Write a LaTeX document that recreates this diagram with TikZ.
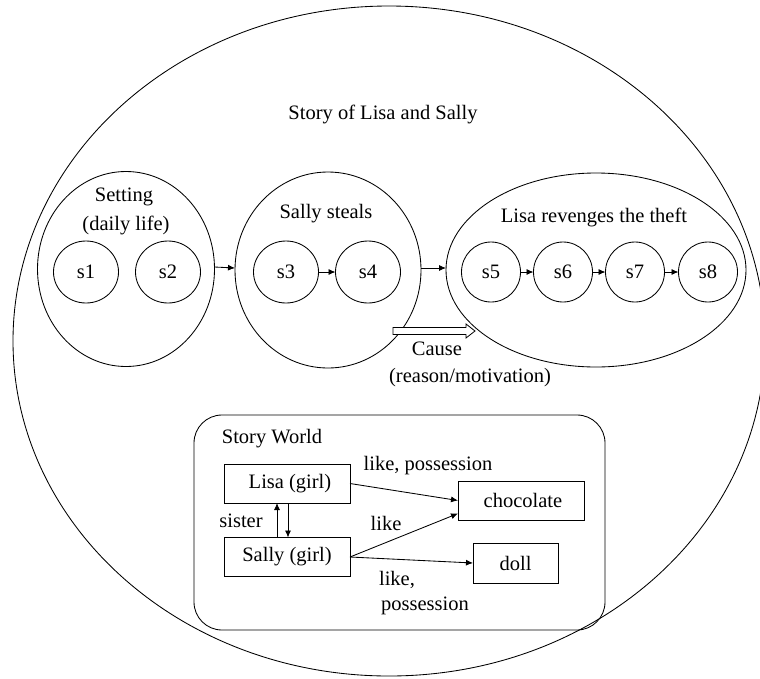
\documentclass[tikz,border=0pt]{standalone}
\usepackage{fontspec}
\setmainfont{Liberation Serif}
\usetikzlibrary{shapes.geometric,arrows.meta}
\begin{document}
\begin{tikzpicture}[x=1pt,y=-1pt,
  line width=0.85pt,
  every node/.style={font=\fontsize{20.5}{24}\selectfont, inner sep=0pt, outer sep=0pt},
  frame/.style={draw, ellipse},
  event/.style={draw, ellipse, minimum width=65pt, minimum height=62pt},
  eventsm/.style={draw, ellipse, minimum width=59pt, minimum height=60pt},
  entity/.style={draw, rectangle, minimum height=39pt},
  label/.style={anchor=base},
  tip/.style={-{Latex[length=7pt,width=6pt]}}]
\useasboundingbox (0,0) rectangle (760,678);

% whole story
\node[frame, minimum width=752pt, minimum height=670pt] (story) at (389,341) {};
\node[label] (title) at (383,119) {Story of Lisa and Sally};

% episodes
\node[frame, minimum width=177pt, minimum height=195pt] (setting) at (126,269) {};
\node[frame, minimum width=186pt, minimum height=196pt] (steal) at (328,270) {};
\node[frame, minimum width=300pt, minimum height=194pt] (revenge) at (596,270) {};

\node[label] (settingA) at (124,201) {Setting};
\node[label] (settingB) at (126,230) {(daily life)};
\node[label] (stealT) at (326,218) {Sally steals};
\node[label] (revengeT) at (594,222) {Lisa revenges the theft};

% events
\node[event] (s1) at (86,272) {s1};
\node[event] (s2) at (168,272) {s2};
\node[event] (s3) at (286,272) {s3};
\node[event] (s4) at (368,272) {s4};
\node[eventsm] (s5) at (491,272) {s5};
\node[eventsm] (s6) at (563,272) {s6};
\node[eventsm] (s7) at (635,272) {s7};
\node[eventsm] (s8) at (708,272) {s8};

\draw[tip] ([yshift=2pt]setting.east) -- ([yshift=2pt]steal.west);
\draw[tip] ([yshift=2pt]steal.east) -- ([yshift=2pt]revenge.west);
\draw[tip] (s3) -- (s4);
\draw[tip] (s5) -- (s6);
\draw[tip] (s6) -- (s7);
\draw[tip] (s7) -- (s8);

% causal link
\coordinate (cA) at (393,331);
\coordinate (cB) at (475,331);
\draw[fill=white, line width=0.8pt]
  ([yshift=3.5pt]cA) -- ([xshift=-9pt,yshift=3.5pt]cB) -- ([xshift=-9pt,yshift=7pt]cB)
  -- (cB) -- ([xshift=-9pt,yshift=-7pt]cB) -- ([xshift=-9pt,yshift=-3.5pt]cB)
  -- ([yshift=-3.5pt]cA) -- cycle;
\node[label] (cause) at (437,355) {Cause};
\node[label] (reason) at (470,382) {(reason/motivation)};

% story world
\node[draw, rectangle, rounded corners=28pt, minimum width=411pt, minimum height=215pt]
  (world) at (399.5,522.5) {};
\node[label] (worldT) at (272,443) {Story World};

\node[entity, minimum width=126pt] (lisa) at (287,483.5) {\hspace*{6pt}Lisa (girl)};
\node[entity, minimum width=126pt] (sally) at (287,557) {Sally (girl)};
\node[entity, minimum width=126pt] (choc) at (521,500.5) {\hspace*{4pt}chocolate};
\node[entity, minimum width=85pt, minimum height=40pt] (doll) at (515.5,563) {doll};

\draw[tip] ([xshift=-10pt]sally.north) -- ([xshift=-10pt]lisa.south);
\draw[tip] ([xshift=1pt]lisa.south) -- ([xshift=1pt]sally.north);
\node[label] (sister) at (241,527) {sister};

\draw[tip] (lisa.east) -- (choc.west);
\draw[tip] (sally.east) -- ([yshift=-13pt]choc.west);
\draw[tip] (sally.east) -- (doll.west);

\node[label] (l1) at (428,470) {like, possession};
\node[label] (l2) at (386,530) {like};
\node[label] (l3) at (397,585) {like,};
\node[label] (l4) at (425,610) {possession};
\end{tikzpicture}
\end{document}
